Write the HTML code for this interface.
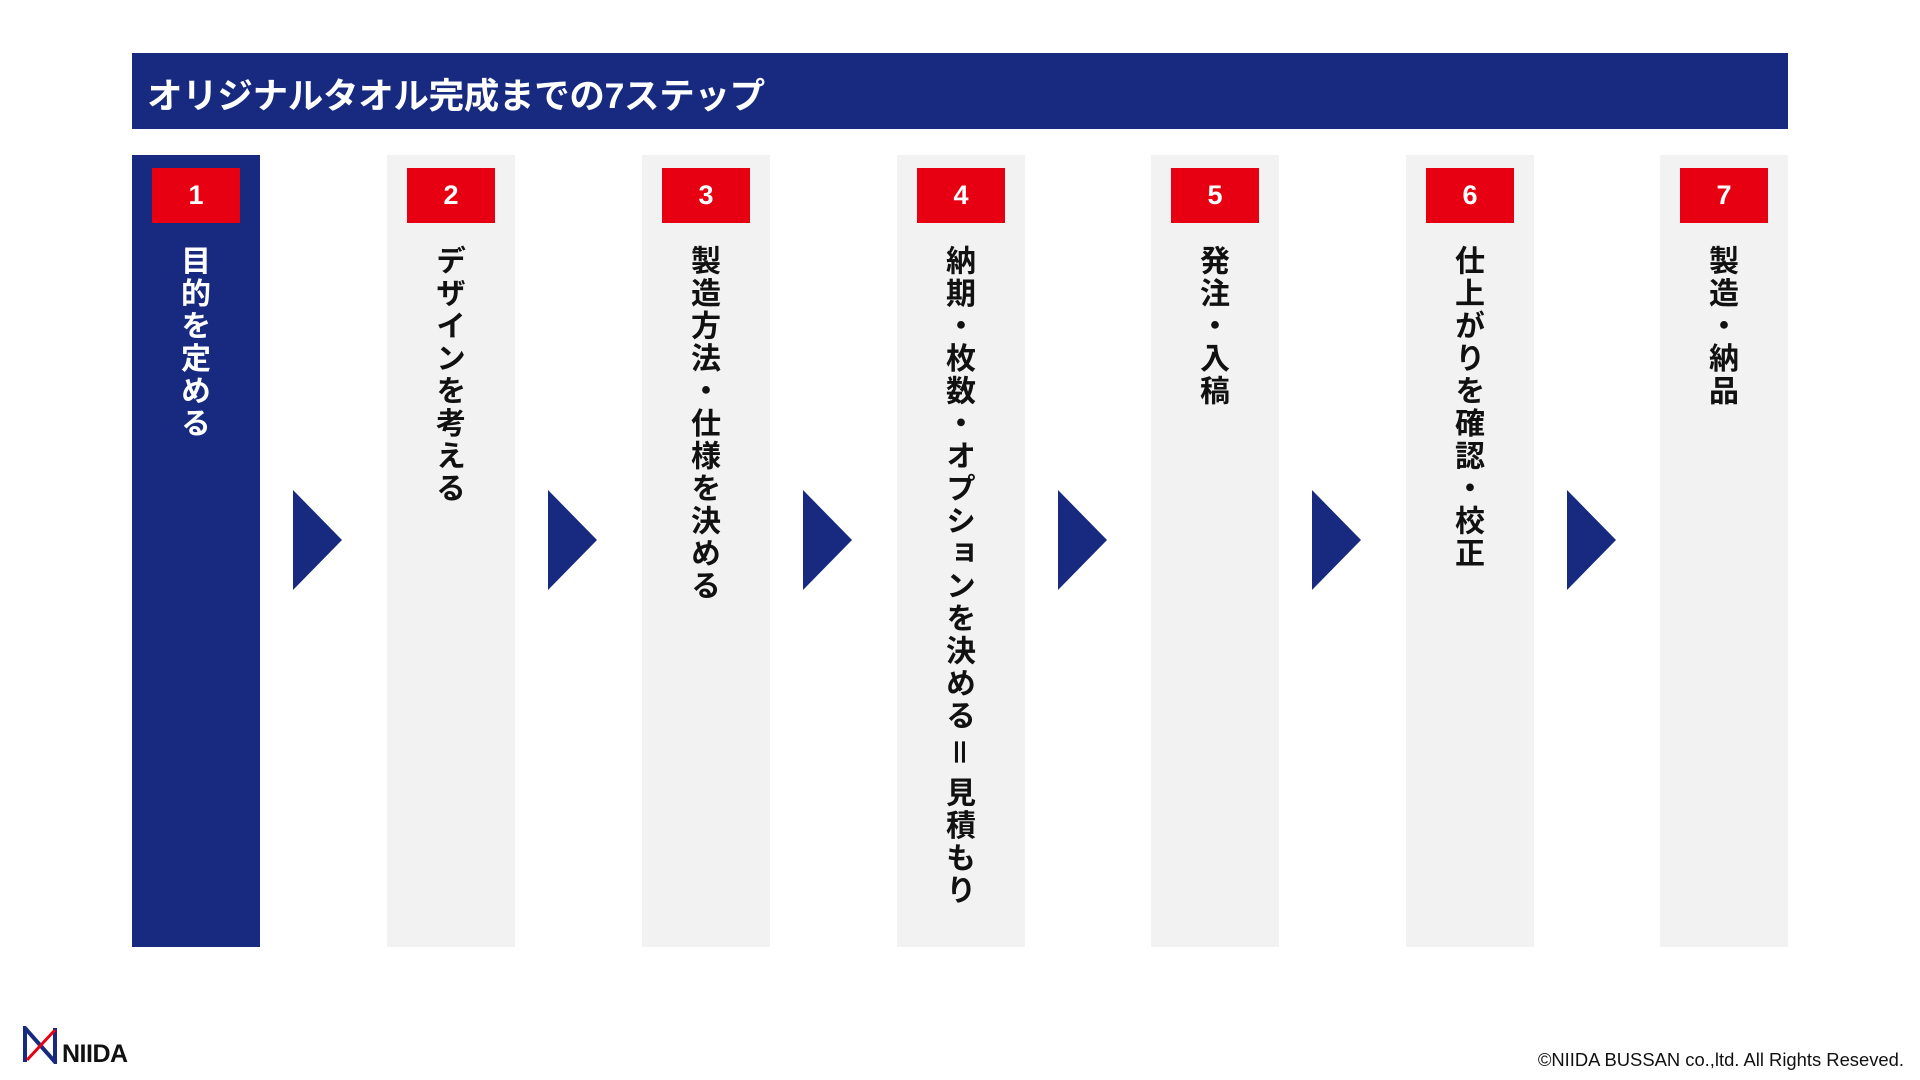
<!DOCTYPE html>
<html><head><meta charset="utf-8"><style>
body{margin:0;width:1920px;height:1080px;background:#fff;position:relative;overflow:hidden;font-family:"Liberation Sans","Noto Sans CJK JP",sans-serif;}
.title{position:absolute;left:132px;top:53px;width:1656px;height:76px;background:#172a80;color:#fff;font-weight:bold;font-size:35.5px;line-height:76px;padding-left:15px;padding-top:5px;box-sizing:border-box;letter-spacing:-0.3px;}
.col{position:absolute;top:155px;width:128px;height:792px;background:#f2f2f2;}
.col.a{background:#172a80;}
.badge{position:absolute;left:20px;top:13px;width:88px;height:55px;background:#e60012;color:#fff;font-weight:bold;font-size:27px;line-height:55px;text-align:center;}
.txt{position:absolute;top:90px;left:0;width:128px;display:flex;justify-content:center;}
.txt span{writing-mode:vertical-rl;font-size:30px;font-weight:bold;letter-spacing:2.5px;color:#111;line-height:1;font-family:"Noto Sans CJK JP",sans-serif;}
.txt span i{font-style:normal;display:inline-block;padding:4px 0 8px;}
.col.a .txt span{color:#fff;}
.arr{position:absolute;top:490px;width:0;height:0;border-top:50px solid transparent;border-bottom:50px solid transparent;border-left:49px solid #172a80;}
.copy{position:absolute;right:16px;top:1049px;font-size:18.4px;color:#111;}
.logo{position:absolute;left:23px;top:1026px;}
.niida{position:absolute;left:62px;top:1040px;font-size:25px;font-weight:bold;color:#111;letter-spacing:-0.5px;}
</style></head><body>
<div class="title">オリジナルタオル完成までの7ステップ</div>

<div class="col a" style="left:132px"><div class="badge">1</div><div class="txt"><span>目的を定める</span></div></div>
<div class="col" style="left:387px"><div class="badge">2</div><div class="txt"><span>デザインを考える</span></div></div>
<div class="col" style="left:642px"><div class="badge">3</div><div class="txt"><span>製造方法・仕様を決める</span></div></div>
<div class="col" style="left:897px"><div class="badge">4</div><div class="txt"><span>納期・枚数・オプションを決める<i>＝</i>見積もり</span></div></div>
<div class="col" style="left:1151px"><div class="badge">5</div><div class="txt"><span>発注・入稿</span></div></div>
<div class="col" style="left:1406px"><div class="badge">6</div><div class="txt"><span>仕上がりを確認・校正</span></div></div>
<div class="col" style="left:1660px"><div class="badge">7</div><div class="txt"><span>製造・納品</span></div></div>

<div class="arr" style="left:293px"></div>
<div class="arr" style="left:548px"></div>
<div class="arr" style="left:803px"></div>
<div class="arr" style="left:1058px"></div>
<div class="arr" style="left:1312px"></div>
<div class="arr" style="left:1567px"></div>

<svg class="logo" width="36" height="38" viewBox="0 0 36 38">
<path d="M2 36 V2 L32 36 V2" fill="none" stroke="#172a80" stroke-width="4"/>
<line x1="4" y1="34" x2="32" y2="4" stroke="#e60012" stroke-width="3"/>
</svg>
<div class="niida">NIIDA</div>
<div class="copy">©NIIDA BUSSAN co.,ltd. All Rights Reseved.</div>
</body></html>
